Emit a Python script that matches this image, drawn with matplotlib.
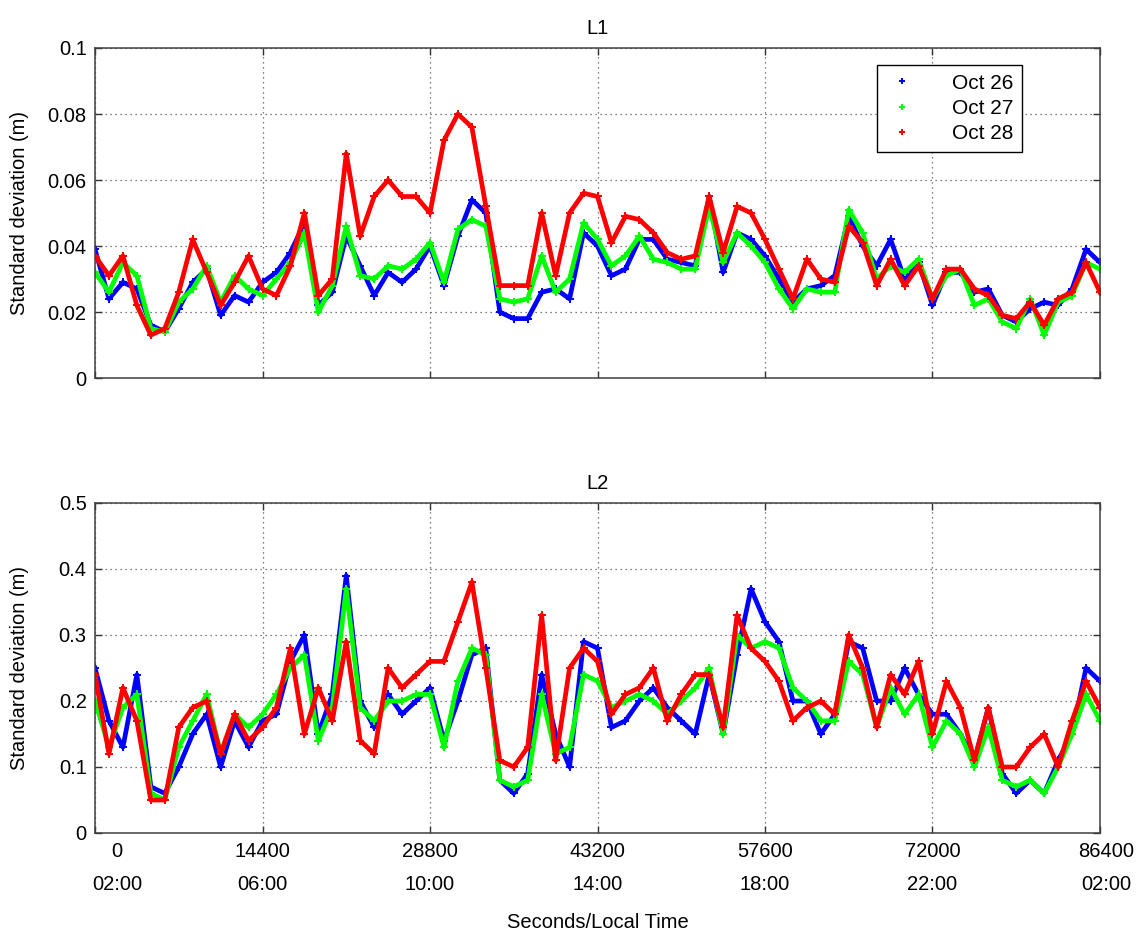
import numpy as np
import matplotlib.pyplot as plt
import matplotlib.transforms as mtransforms
from matplotlib.lines import Line2D

plt.rcParams["font.family"] = ["Liberation Sans", "DejaVu Sans"]

# ---------------------------------------------------------------------------
# Data, one reading every 1200 s (0 ... 86400)
# ---------------------------------------------------------------------------
t_sec = np.arange(0, 86401, 1200)

# L1 standard deviation, in mm
l1_oct26 = [39, 24, 29, 27, 16, 14, 21, 29, 33, 19,
            25, 23, 29, 32, 38, 47, 22, 26, 43, 34,
            25, 32, 29, 33, 40, 28, 43, 54, 50, 20,
            18, 18, 26, 27, 24, 44, 40, 31, 33, 42,
            42, 36, 35, 34, 55, 32, 44, 42, 37, 30,
            23, 27, 28, 31, 49, 40, 34, 42, 30, 35,
            22, 32, 32, 26, 27, 19, 17, 21, 23, 22,
            27, 39, 35]
l1_oct27 = [32, 26, 35, 31, 15, 14, 23, 27, 34, 23,
            31, 27, 25, 30, 35, 44, 20, 28, 46, 31,
            30, 34, 33, 36, 41, 29, 45, 48, 46, 24,
            23, 24, 37, 26, 30, 47, 42, 34, 37, 43,
            36, 35, 33, 33, 52, 35, 44, 40, 35, 27,
            21, 27, 26, 26, 51, 44, 30, 34, 32, 36,
            24, 31, 33, 22, 24, 17, 15, 24, 13, 23,
            25, 35, 33]
l1_oct28 = [37, 31, 37, 22, 13, 15, 26, 42, 32, 22,
            29, 37, 27, 25, 34, 50, 25, 30, 68, 43,
            55, 60, 55, 55, 50, 72, 80, 76, 52, 28,
            28, 28, 50, 31, 50, 56, 55, 41, 49, 48,
            44, 38, 36, 37, 55, 38, 52, 50, 42, 33,
            24, 36, 30, 29, 46, 41, 28, 36, 28, 34,
            24, 33, 33, 27, 25, 19, 18, 23, 16, 24,
            26, 35, 26]

# L2 standard deviation, in cm
l2_oct26 = [25, 17, 13, 24, 7, 6, 10, 15, 18, 10,
            17, 13, 17, 18, 26, 30, 15, 21, 39, 20,
            16, 21, 18, 20, 22, 14, 20, 27, 28, 8,
            6, 9, 24, 15, 10, 29, 28, 16, 17, 20,
            22, 19, 17, 15, 24, 15, 27, 37, 32, 29,
            20, 20, 15, 18, 29, 28, 20, 20, 25, 21,
            18, 18, 15, 11, 19, 9, 6, 8, 6, 11,
            15, 25, 23]
l2_oct27 = [20, 13, 19, 21, 6, 5, 13, 17, 21, 12,
            18, 16, 18, 21, 25, 27, 14, 19, 37, 19,
            17, 20, 20, 21, 21, 13, 23, 28, 27, 8,
            7, 8, 21, 12, 13, 24, 23, 19, 20, 21,
            20, 18, 20, 22, 25, 15, 30, 28, 29, 28,
            22, 20, 17, 17, 26, 24, 16, 22, 18, 21,
            13, 17, 15, 10, 16, 8, 7, 8, 6, 10,
            15, 21, 17]
l2_oct28 = [24, 12, 22, 17, 5, 5, 16, 19, 20, 12,
            18, 14, 16, 19, 28, 15, 22, 17, 29, 14,
            12, 25, 22, 24, 26, 26, 32, 38, 25, 11,
            10, 13, 33, 11, 25, 28, 26, 18, 21, 22,
            25, 17, 21, 24, 24, 16, 33, 28, 26, 23,
            17, 19, 20, 18, 30, 25, 16, 24, 21, 26,
            15, 23, 19, 11, 19, 10, 10, 13, 15, 10,
            17, 23, 19]

day_labels = ["Oct 26", "Oct 27", "Oct 28"]
day_colors = ["#0000ff", "#00ff00", "#ff0000"]

x_ticks = [0, 14400, 28800, 43200, 57600, 72000, 86400]
sec_labels = ["0", "14400", "28800", "43200", "57600", "72000", "86400"]
local_labels = ["02:00", "06:00", "10:00", "14:00", "18:00", "22:00", "02:00"]

l1_yticks = [0, 0.02, 0.04, 0.06, 0.08, 0.1]
l1_ylabels = ["0", "0.02", "0.04", "0.06", "0.08", "0.1"]
l2_yticks = [0, 0.1, 0.2, 0.3, 0.4, 0.5]
l2_ylabels = ["0", "0.1", "0.2", "0.3", "0.4", "0.5"]


# ---------------------------------------------------------------------------
# Figure
# ---------------------------------------------------------------------------
fig = plt.figure(figsize=(11.39, 9.35), dpi=100)
ax1 = fig.add_axes([95 / 1139, 1 - 378 / 935, 1005 / 1139, 330 / 935])
ax2 = fig.add_axes([95 / 1139, 1 - 833 / 935, 1005 / 1139, 330 / 935])


def style_axes(ax, yticks, ylabels, ylim, title):
    ax.set_xlim(0, 86400)
    ax.set_ylim(*ylim)
    ax.set_xticks(x_ticks)
    ax.set_xticklabels([])
    ax.set_yticks(yticks)
    ax.set_yticklabels(ylabels)
    ax.tick_params(direction="in", top=True, right=True, length=5, width=1,
                   labelsize=14.5, color="#333333", pad=6)
    ax.grid(True, linestyle=(0, (1, 3)), color="#555555", linewidth=0.9)
    for sp in ax.spines.values():
        sp.set_color("#404040")
        sp.set_linewidth(1.1)
    ax.set_title(title, fontsize=14.5, pad=10)
    ax.set_ylabel("Standard deviation (m)", fontsize=14.5, va="center")
    ax.yaxis.set_label_coords(-75 / 1005, 0.5)


series_l1 = [np.array(l1_oct26) / 1000, np.array(l1_oct27) / 1000, np.array(l1_oct28) / 1000]
series_l2 = [np.array(l2_oct26) / 100, np.array(l2_oct27) / 100, np.array(l2_oct28) / 100]

# dense dot clouds in the original -> thick lines with small '+'-like markers
for ax, series in ((ax1, series_l1), (ax2, series_l2)):
    for vals, c in zip(series, day_colors):
        ax.plot(t_sec, vals, color=c, linewidth=3.4, marker="P", markersize=6,
                markeredgewidth=0, solid_joinstyle="round")

style_axes(ax1, l1_yticks, l1_ylabels, (0, 0.1), "L1")
style_axes(ax2, l2_yticks, l2_ylabels, (0, 0.5), "L2")

# legend (top panel only)
handles = [Line2D([], [], color=c, marker="P", markersize=5, markeredgewidth=0,
                  linestyle="none") for c in day_colors]
leg = ax1.legend(handles, day_labels, loc="upper right",
                 bbox_to_anchor=(937 / 1005, 323 / 330), fontsize=15,
                 fancybox=False, framealpha=1, edgecolor="black",
                 handletextpad=1.6, labelspacing=0.3, borderpad=0.4,
                 handlelength=1.6)
leg.get_frame().set_linewidth(1.0)

# two-line x tick labels on the bottom panel
last = len(x_ticks) - 1
for i, (tk, s, h) in enumerate(zip(x_ticks, sec_labels, local_labels)):
    dx = 22 if i == 0 else (6 if i == last else 0)
    trans = ax2.get_xaxis_transform() + mtransforms.ScaledTranslation(
        dx / 100, 0, fig.dpi_scale_trans)
    ax2.text(tk, -9 / 330, s + "\n" + h, transform=trans, ha="center",
             va="top", fontsize=14.5, linespacing=1.9)

fig.text(597.5 / 1139, 1 - 922 / 935, "Seconds/Local Time", ha="center",
         va="center", fontsize=14.5)

fig.savefig("out.png", dpi=100)
